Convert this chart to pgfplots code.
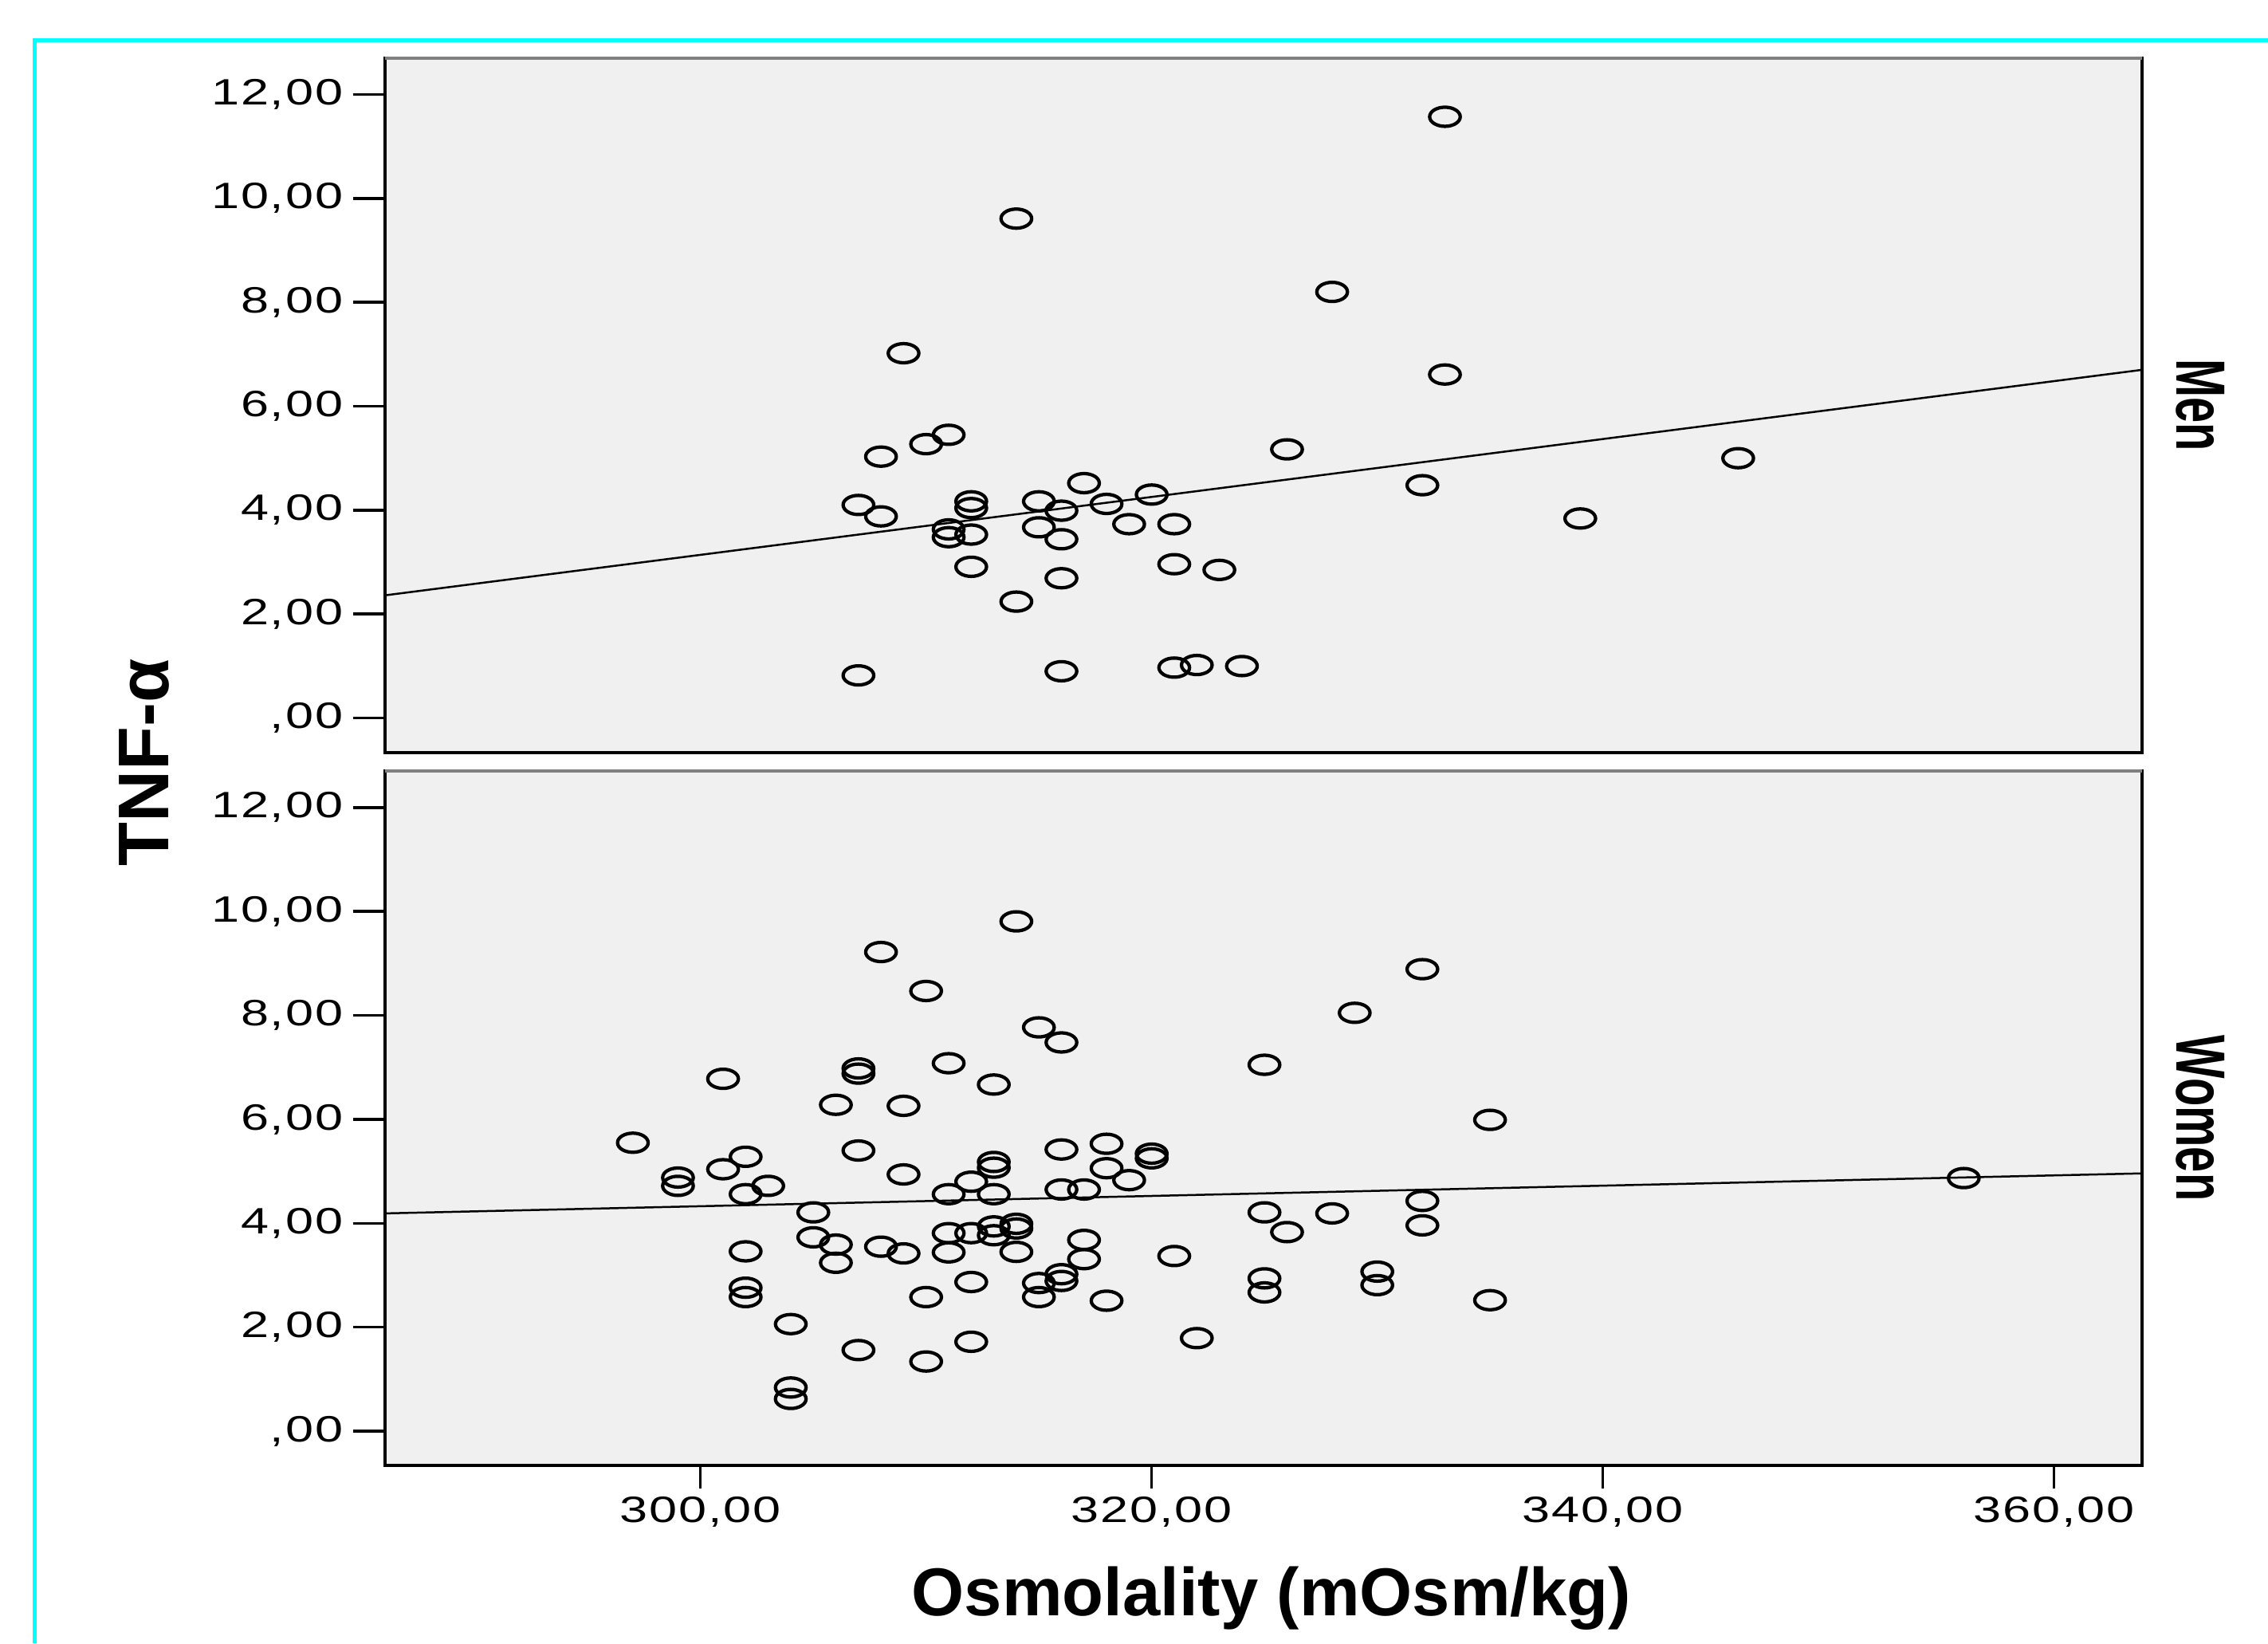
\documentclass[border=0pt]{standalone}
\usepackage{fontspec}
\setmainfont{Liberation Sans}
\newfontfamily\tickfont[FakeStretch=1.37,LetterSpace=4]{Liberation Sans}
\newfontfamily\stripfont[FakeStretch=0.66]{Liberation Sans}
\usepackage{pgfplots}
\pgfplotsset{compat=1.18}
\definecolor{panelbg}{HTML}{F0F0F0}
\definecolor{framegray}{HTML}{808080}
\definecolor{bordercyan}{HTML}{00FFFF}

\pgfplotstableread{
x y
333 11.57
314 9.61
328 8.20
309 7.02
333 6.61
311 5.45
310 5.27
308 5.03
326 5.17
346 5.00
332 4.48
317 4.52
320 4.30
307 4.10
315 4.17
312 4.17
312 4.04
316 3.99
318 4.12
308 3.88
339 3.84
319 3.73
321 3.73
315 3.67
311 3.63
311 3.48
312 3.53
316 3.44
312 2.91
321 2.96
323 2.85
316 2.69
314 2.24
307 0.82
316 0.90
321 0.97
322 1.02
324 1.00
}\men

\pgfplotstableread{
x y
297 5.55
299 4.88
299 4.72
301 6.78
301 5.04
302 5.28
302 4.56
303 4.72
302 3.46
302 2.76
302 2.58
304 2.06
304 0.84
304 0.62
305 4.21
305 3.73
306 3.59
306 3.24
306 6.28
307 6.98
307 6.88
307 5.40
307 1.56
308 9.22
308 3.55
309 4.94
309 6.26
309 3.42
310 8.47
310 2.58
310 1.34
311 7.08
311 4.56
311 3.81
311 3.44
312 4.80
312 3.81
312 2.87
312 1.72
313 6.67
313 5.18
313 5.07
313 4.56
313 3.94
313 3.77
314 9.81
314 3.99
314 3.90
314 3.45
315 7.77
315 2.85
315 2.58
316 7.48
316 5.42
316 4.65
316 3.02
316 2.89
317 4.65
317 3.68
317 3.31
318 5.53
318 5.06
318 2.51
319 4.83
320 5.34
320 5.25
321 3.37
322 1.79
325 7.05
325 4.21
325 2.94
325 2.67
326 3.83
328 4.19
329 8.05
330 3.07
330 2.81
332 8.89
332 4.43
332 3.96
335 5.99
335 2.52
356 4.87
}\women

\pgfplotsset{
  panel/.style={
    scale only axis,
    width=15.497cm, height=6.122cm,
    anchor=south west,
    xmin=286.0, xmax=363.9,
    ymin=-0.66, ymax=12.70,
    axis background/.style={fill=panelbg},
    axis line style={black, line width=0.8pt},
    tick pos=left,
    ytick={0,2,4,6,8,10,12},
    yticklabels={{,00},{2,00},{4,00},{6,00},{8,00},{10,00},{12,00}},
    yticklabel style={font=\tickfont\fontsize{9.2}{10}\selectfont,
      inner xsep=1pt, xshift=-5pt},
    tick align=outside,
    ytick style={black, line width=0.7pt, /pgfplots/major tick length=8pt},
    xtick style={black, line width=0.6pt, /pgfplots/major tick length=5.7pt},
    clip=false,
  },
  dots/.style={only marks, mark=o, mark size=2.4pt,
    mark options={xscale=1.6, line width=0.85pt, black}},
  fit/.style={black, line width=0.5pt, no marks},
}

\begin{document}
\begin{tikzpicture}[x=0.012755cm, y=0.012755cm]
\useasboundingbox (0,0) rectangle (1568,1136);
\draw[bordercyan, line width=1pt] (24,0) -- (24,1108) -- (1568,1108);

% Men
\begin{axis}[panel, at={(3.3928cm,7.8571cm)}, xtick=\empty]
\addplot[dots] table[x=x,y=y] {\men};
\addplot[fit] coordinates {(286.0,2.36) (363.9,6.70)};
\draw[framegray, line width=0.9pt] (rel axis cs:0,1) -- (rel axis cs:1,1);
\end{axis}

% Women
\begin{axis}[panel, at={(3.3928cm,1.5689cm)},
  xtick={300,320,340,360},
  xticklabels={{300,00},{320,00},{340,00},{360,00}},
  xticklabel style={font=\tickfont\fontsize{9.2}{10}\selectfont}]
\addplot[dots] table[x=x,y=y] {\women};
\addplot[fit] coordinates {(286.0,4.19) (363.9,4.96)};
\draw[framegray, line width=0.9pt] (rel axis cs:0,1) -- (rel axis cs:1,1);
\end{axis}

\node[rotate=90, font=\bfseries\fontsize{18}{20}\selectfont] at (100,609) {TNF-α};
\node[font=\bfseries\fontsize{17}{19}\selectfont] at (879,31) {Osmolality (mOsm/kg)};
\node[rotate=-90, font=\stripfont\bfseries\fontsize{17.5}{19}\selectfont] at (1521,856) {Men};
\node[rotate=-90, font=\stripfont\bfseries\fontsize{17.5}{19}\selectfont] at (1521,363) {Women};
\end{tikzpicture}
\end{document}
